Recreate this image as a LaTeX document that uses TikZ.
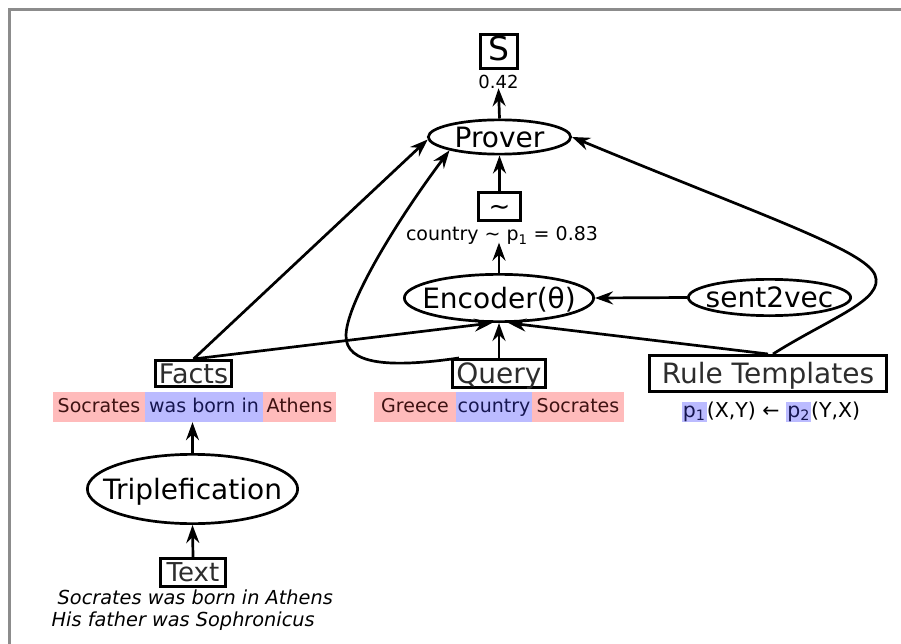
\documentclass[tikz,border=0pt]{standalone}
\usepackage{fontspec}
\setmainfont{DejaVu Sans}
\usetikzlibrary{arrows.meta,shapes.geometric}

\definecolor{hlpink}{RGB}{255,187,187}
\definecolor{hlblue}{RGB}{187,187,255}
\definecolor{pinktext}{RGB}{62,18,18}
\definecolor{bluetext}{RGB}{22,22,80}
\definecolor{boxtext}{RGB}{45,45,45}
\definecolor{framegray}{RGB}{140,140,140}

% blue highlight behind a predicate symbol
\newcommand\hlword[1]{{\setlength{\fboxsep}{0pt}\colorbox{hlblue}{\rule[-5pt]{0pt}{20pt}\kern1.2pt\color{bluetext}#1\kern1.2pt}}}

\begin{document}
\begin{tikzpicture}[x=1pt,y=-1pt,
  every node/.style={inner sep=0pt},
  % font of the given size, with the cap height centred on the node
  sz/.style={font=\fontsize{#1}{#1}\selectfont, text height={0.73*#1pt}, text depth=0pt},
  proc/.style={ellipse, draw, line width=2.7pt, sz=28},
  term/.style={rectangle, draw, line width=2.7pt, sz=28, text=boxtext},
  seg/.style={rectangle, minimum height=30pt, sz=19, text depth=3pt},
  ent/.style={seg, fill=hlpink, text=pinktext},
  rel/.style={seg, fill=hlblue, text=bluetext},
  flow/.style={line width=2.7pt, -{Stealth[length=18pt,width=13pt,inset=6pt]}}
]
\useasboundingbox (0,0) rectangle (901,644);
\draw[framegray, line width=2.2pt] (9.5,644) -- (9.5,9.5) -- (901,9.5);

% score and prover
\node[term, text=black, minimum width=37.3, minimum height=34.3, sz=33, text depth=6pt] (score) at (499,51.5) {S};
\node[sz=18] (scoreval) at (498.5,81.5) {0.42};
\node[proc, minimum width=142.3, minimum height=34.3] (prover) at (499.5,137) {\makebox[0pt]{Prover}};

% similarity
\node[term, text=black, minimum width=42.3, minimum height=28.3, sz=26] (sim) at (499.5,206.5) {\textasciitilde};
\node[sz=19] (simval) at (502,233.5) {country \textasciitilde{} p\textsubscript{1} = 0.83};

% encoder
\node[proc, minimum width=189.3, minimum height=47.3] (enc) at (499,298) {\makebox[0pt]{Encoder(θ)}};
\node[proc, minimum width=162.3, minimum height=36.3] (s2v) at (769.5,297.5) {\makebox[0pt]{sent2vec}};

% inputs
\node[term, minimum width=76.3, minimum height=26.3, sz=27] (facts) at (193.5,373.5) {Facts};
\node[term, minimum width=93.3, minimum height=28.3] (query) at (499,373.5) {Query};
\node[term, minimum width=237.3, minimum height=36.3] (rules) at (768,373.5) {Rule Templates};

% fact triple
\node[ent, minimum width=92] (fsubj) at (99,407) {Socrates};
\node[rel, minimum width=118] (frel) at (204,407) {was born in};
\node[ent, minimum width=73] (fobj) at (299.5,407) {Athens};

% query triple
\node[ent, minimum width=82] (qsubj) at (415,407) {Greece};
\node[rel, minimum width=76] (qrel) at (494,407) {country};
\node[ent, minimum width=92] (qobj) at (578,407) {Socrates};

% rule template
\node[sz=20.5] (rulef) at (771,410)
  {\hlword{p\textsubscript{1}}(X,Y) ← \hlword{p\textsubscript{2}}(Y,X)};

% triplefication of raw text
\node[proc, minimum width=210.3, minimum height=69.3] (trip) at (192.5,489) {\makebox[0pt]{Triplefication}};
\node[term, minimum width=65.3, minimum height=28.3, sz=26] (txt) at (193,572.5) {Text};
\node[anchor=base west, font=\itshape\fontsize{19.3}{23}\selectfont] (line1) at (57.5,604) {Socrates was born in Athens};
\node[anchor=base west, font=\itshape\fontsize{19.3}{23}\selectfont] (line2) at (51.5,626) {His father was Sophronicus};

% connectors
\draw[flow] (prover.north) -- (scoreval.south);
\draw[flow] (sim.north) -- (prover.south);
\draw[flow, shorten >=2pt] (enc.north) -- (enc.north |- simval.south);
\draw[flow] (s2v.west) -- (enc.east);
\draw[flow] (facts.north) -- (prover.182);
\draw[flow] (facts.north) -- (enc.255);
\draw[flow] (query.north) -- (enc.south);
\draw[flow] (rules.north) -- (enc.290);
\draw[flow] ([xshift=8pt]query.north west)
  .. controls (390,368) and (345,365) .. (346,335)
  .. controls (347,300) and (403,212) .. (prover.195);
\draw[flow] ([xshift=5pt]rules.north)
  .. controls (830,318) and (885,300) .. (875,275)
  .. controls (865,250) and (760,215) .. (prover.east);
\draw[flow] (trip.north) -- (trip.north |- frel.south);
\draw[flow] (txt.north) -- (trip.south);
\end{tikzpicture}
\end{document}
